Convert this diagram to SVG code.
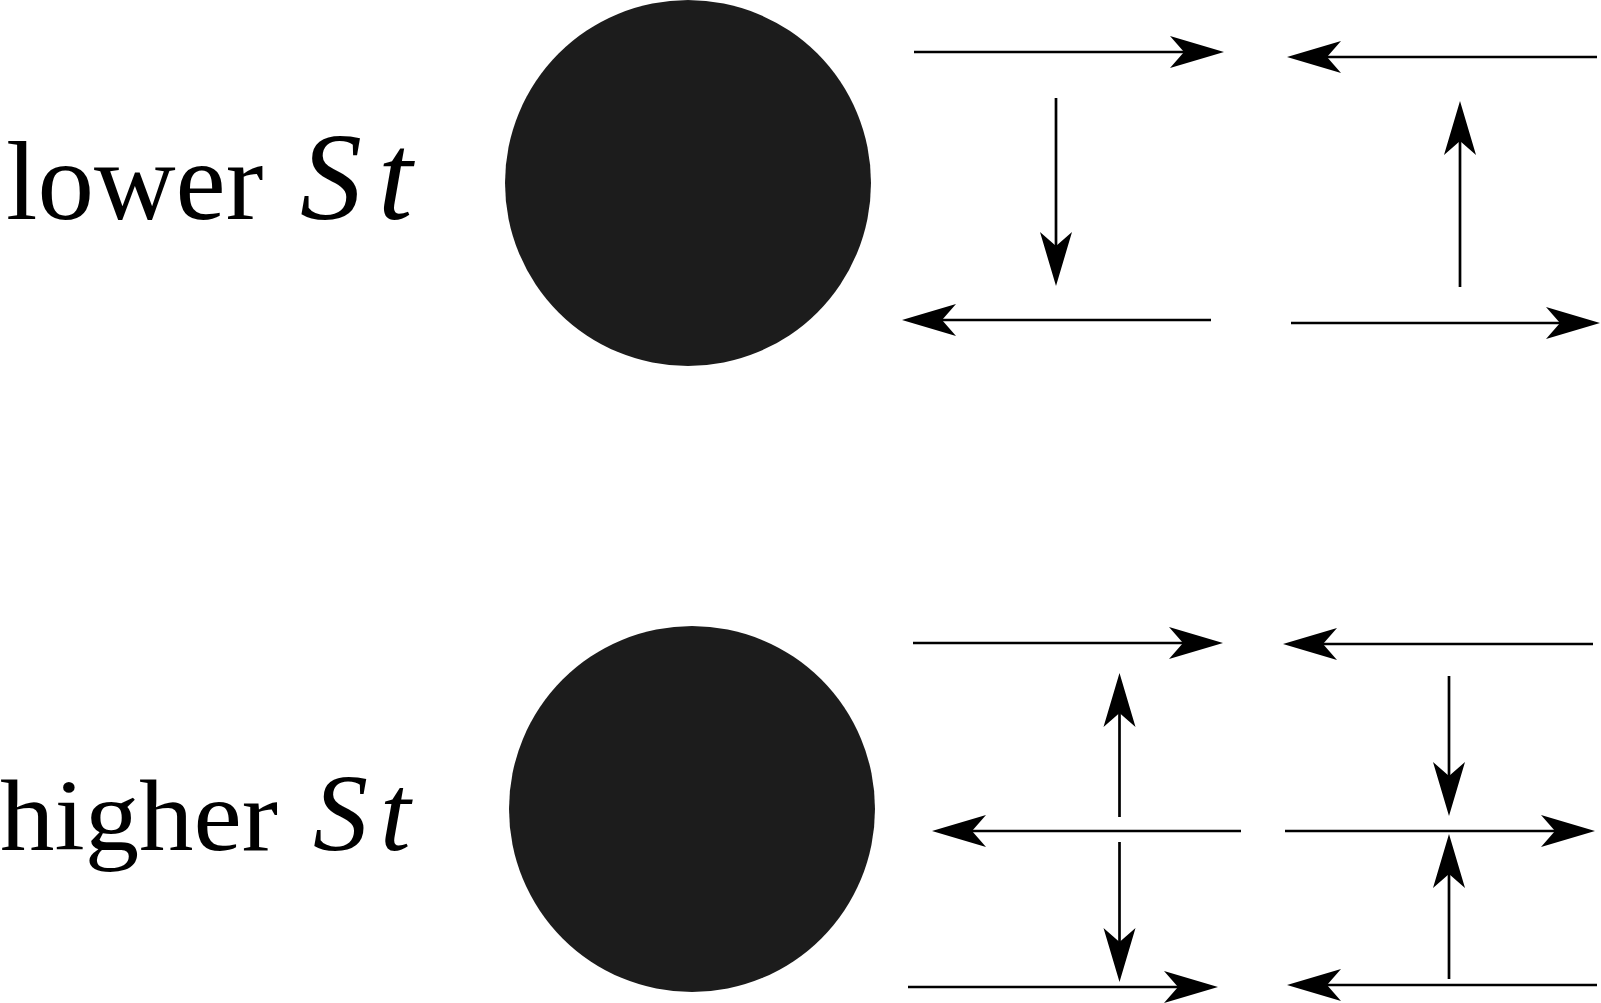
<svg xmlns="http://www.w3.org/2000/svg" width="1601" height="1003" viewBox="0 0 1601 1003">
<style>
.lbl{font-family:"Liberation Serif","Times New Roman",serif;fill:#000}
.it{font-style:italic}
.disk{fill:#1c1c1c}
.ar{stroke:#000;stroke-width:2.7;fill:none;marker-end:url(#ah)}
</style>
<defs>
<marker id="ah" markerUnits="userSpaceOnUse" orient="auto" refX="0" refY="0" markerWidth="60" markerHeight="40" overflow="visible">
<path d="M40,0 L-14,-16 L0,0 L-14,16 Z" fill="#000"/>
</marker>
</defs>
<rect width="1601" height="1003" fill="#fff"/>
<g id="label-lower">
<text class="lbl" x="6" y="219" font-size="113">lower</text>
<text class="lbl it" y="219" font-size="124"><tspan x="300">S</tspan><tspan x="378">t</tspan></text>
</g>
<g id="label-higher">
<text class="lbl" x="0" y="850" font-size="101" textLength="278" lengthAdjust="spacingAndGlyphs">higher</text>
<text class="lbl it" y="850" font-size="110"><tspan x="313">S</tspan><tspan x="380">t</tspan></text>
</g>
<g id="particle-lower"><circle class="disk" cx="688" cy="183" r="183"/></g>
<g id="particle-higher"><circle class="disk" cx="692" cy="809" r="183"/></g>
<g id="connectors">
<line class="ar" x1="914" y1="52" x2="1184" y2="52"/>
<line class="ar" x1="1597" y1="57" x2="1327" y2="57"/>
<line class="ar" x1="1056" y1="98" x2="1056" y2="246"/>
<line class="ar" x1="1211" y1="320" x2="942" y2="320"/>
<line class="ar" x1="1460" y1="287" x2="1460" y2="141"/>
<line class="ar" x1="1291" y1="323" x2="1560" y2="323"/>
<line class="ar" x1="913" y1="643" x2="1183" y2="643"/>
<line class="ar" x1="1593" y1="644" x2="1323" y2="644"/>
<line class="ar" x1="1119.5" y1="817" x2="1119.5" y2="713"/>
<line class="ar" x1="1241" y1="831" x2="972" y2="831"/>
<line class="ar" x1="1119.5" y1="842" x2="1119.5" y2="942"/>
<line class="ar" x1="908" y1="987" x2="1178" y2="987"/>
<line class="ar" x1="1449" y1="676" x2="1449" y2="776"/>
<line class="ar" x1="1285" y1="831" x2="1555" y2="831"/>
<line class="ar" x1="1449" y1="979" x2="1449" y2="874"/>
<line class="ar" x1="1597" y1="985" x2="1327" y2="985"/>
</g>
</svg>
